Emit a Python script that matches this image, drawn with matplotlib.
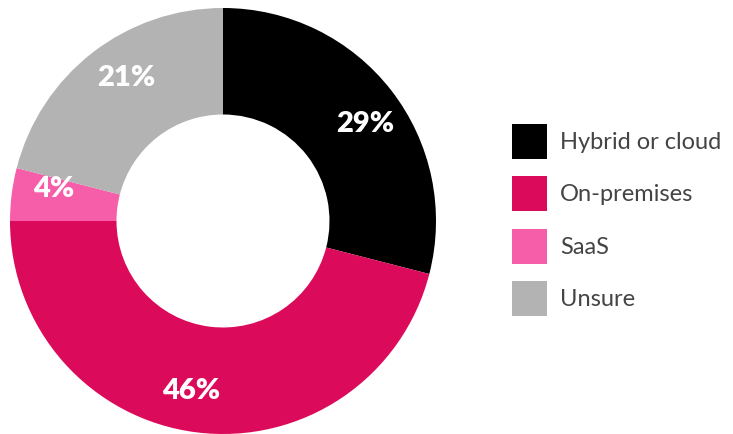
import numpy as np
import matplotlib.pyplot as plt
from matplotlib.patches import Patch

plt.rcParams['font.family'] = ['Lato', 'DejaVu Sans']

labels = ['Hybrid or cloud', 'On-premises', 'SaaS', 'Unsure']
shares = [29, 46, 4, 21]
colors = ['#000000', '#DC0A5A', '#F65EA9', '#B3B3B3']

W, H = 733, 434
fig = plt.figure(figsize=(W / 100, H / 100), dpi=100)
ax = fig.add_axes([10 / W, 0 / H, 426 / W, 426 / H])

wedges, texts, autotexts = ax.pie(
    shares, colors=colors, startangle=90, counterclock=False,
    radius=1.0, wedgeprops=dict(width=0.5, linewidth=0),
    autopct='%d%%', pctdistance=0.81,
    textprops=dict(color='white', fontsize=21, fontweight='heavy'))

# nudge the percentage labels a little clockwise around the ring
shift = np.deg2rad(-3.5)
for t in autotexts:
    x, y = t.get_position()
    t.set_position((x * np.cos(shift) - y * np.sin(shift),
                    x * np.sin(shift) + y * np.cos(shift)))

ax.set_xlim(-1, 1)
ax.set_ylim(-1, 1)
ax.set_aspect('equal')
ax.axis('off')

handles = [Patch(facecolor=c, edgecolor='none') for c in colors]
fig.legend(handles, labels, loc='center left',
           bbox_to_anchor=(512 / W, 0.493), frameon=False,
           fontsize=17, labelcolor='#444444',
           handlelength=1.48, handleheight=1.9,
           handletextpad=0.55, labelspacing=0.74, borderpad=0,
           borderaxespad=0)

fig.savefig('out.png', dpi=100)
